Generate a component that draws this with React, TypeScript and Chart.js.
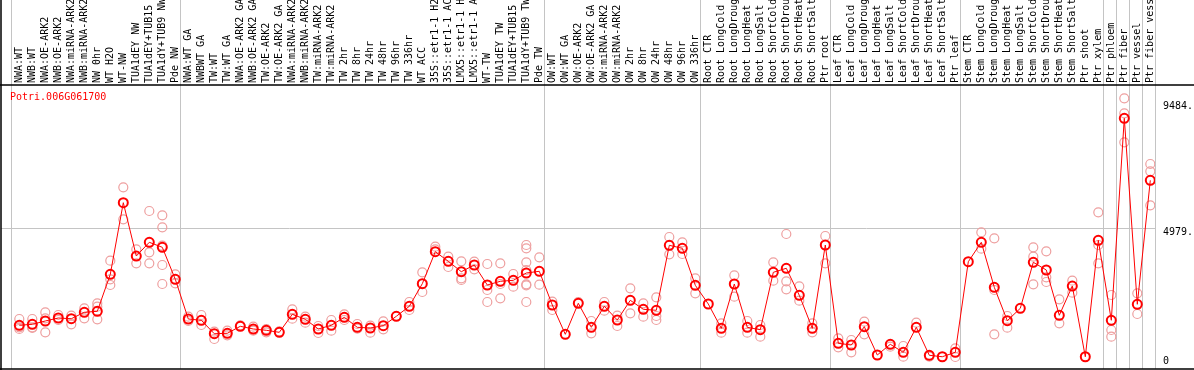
import { useEffect, useRef } from 'react';
import { Chart, registerables } from 'chart.js';

Chart.register(...registerables);

const geneId = 'Potri.006G061700';

const categories = [
  'NWA:WT', 'NWB:WT', 'NWA:OE-ARK2', 'NWB:OE-ARK2', 'NWA:miRNA-ARK2', 'NWB:miRNA-ARK2',
  'NW 0hr', 'WT H2O', 'WT-NW', 'TUA1dEY NW', 'TUA1dEY+TUB15 NW', 'TUA1dY+TUB9 NW', 'Pde NW',
  'NWA:WT GA', 'NWBWT GA', 'TW:WT', 'TW:WT GA', 'NWA:OE-ARK2 GA', 'NWB:OE-ARK2 GA',
  'TW:OE-ARK2', 'TW:OE-ARK2 GA', 'NWA:miRNA-ARK2 GA', 'NWB:miRNA-ARK2 GA', 'TW:miRNA-ARK2',
  'TW:miRNA-ARK2 GA', 'TW 2hr', 'TW 8hr', 'TW 24hr', 'TW 48hr', 'TW 96hr', 'TW 336hr',
  'WT ACC', '35S::etr1-1 H2O', '35S::etr1-1 ACC', 'LMX5::etr1-1 H2O', 'LMX5::etr1-1 ACC',
  'WT-TW', 'TUA1dEY TW', 'TUA1dEY+TUB15 TW', 'TUA1dY+TUB9 TW', 'Pde TW',
  'OW:WT', 'OW:WT GA', 'OW:OE-ARK2', 'OW:OE-ARK2 GA', 'OW:miRNA-ARK2', 'OW:miRNA-ARK2 GA',
  'OW 2hr', 'OW 8hr', 'OW 24hr', 'OW 48hr', 'OW 96hr', 'OW 336hr',
  'Root CTR', 'Root LongCold', 'Root LongDrought', 'Root LongHeat', 'Root LongSalt',
  'Root ShortCold', 'Root ShortDrought', 'Root ShortHeat', 'Root ShortSalt', 'Ptr root',
  'Leaf CTR', 'Leaf LongCold', 'Leaf LongDrought', 'Leaf LongHeat', 'Leaf LongSalt',
  'Leaf ShortCold', 'Leaf ShortDrought', 'Leaf ShortHeat', 'Leaf ShortSalt', 'Ptr leaf',
  'Stem CTR', 'Stem LongCold', 'Stem LongDrought', 'Stem LongHeat', 'Stem LongSalt',
  'Stem ShortCold', 'Stem ShortDrought', 'Stem ShortHeat', 'Stem ShortSalt', 'Ptr shoot',
  'Ptr xylem', 'Ptr phloem', 'Ptr fiber', 'Ptr vessel', 'Ptr fiber vessel',
];

const means = [
  1224, 1262, 1390, 1505, 1478, 1725, 1764, 3192, 5956, 3898, 4427, 4234, 2999,
  1467, 1417, 899, 915, 1185, 1081, 1031, 953, 1648, 1455, 1081, 1224, 1532, 1146, 1119,
  1208, 1571, 1957, 2829, 4064, 3694, 3292, 3551, 2779, 2922, 2960, 3242, 3308,
  2007, 876, 2073, 1146, 1957, 1428, 2188, 1841, 1803, 4311, 4196, 2767,
  2046, 1108, 2818, 1146, 1054, 3269, 3424, 2381, 1108, 4323,
  529, 463, 1170, 77, 490, 181, 1146, 66, 10, 181,
  3678, 4427, 2690, 1401, 1880, 3655, 3358, 1610, 2740, 10, 4504,
  1417, 9213, 2034, 6820,
];

const replicates: number[][] = [
  [1467, 1145, 1081], [1467, 1145, 1119], [1724, 1493, 952], [1621, 1428], [1596, 1261],
  [1879, 1493], [2072, 1943, 1454], [3719, 2998, 2779], [6549, 5314], [4156, 3615],
  [5636, 4040, 3615], [5468, 5005, 4298, 3551, 2818], [3191, 2843],
  [1557, 1390], [1621, 1235], [978, 695], [1016, 836], [1222], [1171, 1016], [1081, 952],
  [991], [1840, 1480], [1557, 1325], [1197, 926], [1428, 1016], [1647, 1428], [1274, 1094],
  [1210, 939], [1377, 1068], [1583], [2123, 1814], [3268, 2509], [4259, 4156], [3873, 3474],
  [3693, 3036, 2972], [3680, 3384], [3590, 2586, 2123], [3615, 2818, 2264], [3204, 2714],
  [4323, 4195, 3654, 3358, 2805, 2766, 2123], [3847, 2792],
  [2136, 1814], [], [2123], [1390, 914], [2123, 1788], [1596, 1197], [2650, 1686],
  [2072, 1557], [2303, 1583, 1428], [4632, 3963], [4426, 3976], [3036, 2457],
  [], [1300, 939], [3152, 2329], [1390, 939], [1235, 785], [3654, 2947], [4748, 2921, 2612],
  [2728, 2175], [1300, 952], [4671, 3615],
  [720, 373], [656, 180], [1364, 875], [], [399], [425, 13], [1325], [13], [], [334, 0],
  [], [4812, 4182], [4580, 2586, 875], [1583, 1132], [], [4233, 3873, 2805],
  [4079, 3075, 2895], [2226, 1300], [2947, 2483], [], [5584, 4323, 3615],
  [2393, 1042, 785], [9985, 9406, 8286], [2457, 1660], [7450, 7167, 5854],
];

// category indices before which a separator line is drawn
const groupBoundaries = [0, 13, 41, 53, 63, 73, 84, 85, 86, 87, 88];

const yTickValues = [0, 4979, 9843];
const yTickLabels = ['0', '4979.', '9484.'];

const MONO = '"DejaVu Sans Mono", "Liberation Mono", monospace';
const SHIFT = 1.8 / 13;
const X_MIN = -0.5 - SHIFT - 10 / 13;
const X_MAX = categories.length - 0.5 - SHIFT;

const zeroPad = (scale: any) => {
  scale.paddingLeft = 0;
  scale.paddingRight = 0;
  scale.paddingTop = 0;
  scale.paddingBottom = 0;
};

const framePlugin = {
  id: 'frame',
  afterDraw(chart: any) {
    const { ctx, chartArea: a, width, height } = chart;
    ctx.save();
    ctx.strokeStyle = '#000';
    ctx.lineWidth = 1.5;
    ctx.beginPath();
    ctx.moveTo(0, a.top);
    ctx.lineTo(width, a.top);
    ctx.moveTo(0, a.bottom);
    ctx.lineTo(width, a.bottom);
    ctx.moveTo(a.left, 0);
    ctx.lineTo(a.left, height);
    ctx.stroke();
    ctx.fillStyle = '#ff0000';
    ctx.font = '10px ' + MONO;
    ctx.textBaseline = 'alphabetic';
    ctx.textAlign = 'left';
    ctx.fillText(geneId, a.left + 9, a.top + 15);
    ctx.restore();
  },
};

export default function App() {
  const ref = useRef<HTMLCanvasElement>(null);

  useEffect(() => {
    document.body.style.margin = '0';
    if (!ref.current) return;
    const meanPoints = means.map((v, i) => ({ x: i, y: v }));
    const repPoints: { x: number; y: number }[] = [];
    replicates.forEach((arr, i) => arr.forEach((v) => repPoints.push({ x: i, y: v })));

    const chart = new Chart(ref.current, {
      type: 'scatter',
      data: {
        datasets: [
          {
            label: 'mean',
            data: meanPoints,
            showLine: true,
            borderColor: '#ff0000',
            backgroundColor: 'rgba(0,0,0,0)',
            borderWidth: 1,
            pointRadius: 4.5,
            pointBorderWidth: 2,
            pointBorderColor: '#ff0000',
            pointBackgroundColor: 'rgba(0,0,0,0)',
            order: 0,
          },
          {
            label: 'replicates',
            data: repPoints,
            showLine: false,
            borderColor: '#ee9f9f',
            backgroundColor: 'rgba(0,0,0,0)',
            pointRadius: 4.5,
            pointBorderWidth: 1.2,
            order: 1,
          },
        ],
      },
      options: {
        animation: false,
        responsive: false,
        devicePixelRatio: 1,
        layout: { autoPadding: false, padding: { left: 1, right: 0, top: 0, bottom: 1 } },
        plugins: {
          legend: { display: false },
          tooltip: { enabled: false },
          title: { display: false },
        },
        scales: {
          x: {
            type: 'linear',
            position: 'top',
            min: X_MIN,
            max: X_MAX,
            afterBuildTicks: (scale: any) => {
              const t = groupBoundaries.map((b) => ({ value: b - 0.5 - SHIFT }));
              categories.forEach((_, i) => t.push({ value: i }));
              t.sort((p, q) => p.value - q.value);
              scale.ticks = t;
            },
            afterFit: (scale: any) => {
              scale.height = 85;
              zeroPad(scale);
            },
            border: { display: false },
            grid: {
              color: (ctx: any) =>
                ctx.tick && !Number.isInteger(ctx.tick.value) ? '#c4c4c4' : 'rgba(0,0,0,0)',
              lineWidth: 1,
              drawTicks: true,
              tickLength: 85,
            },
            ticks: {
              autoSkip: false,
              minRotation: 90,
              maxRotation: 90,
              padding: -83,
              labelOffset: 12,
              color: '#000',
              font: { family: MONO, size: 10 },
              callback: (v: any) => (Number.isInteger(v) ? categories[v] : ''),
            },
          },
          y: {
            type: 'linear',
            position: 'right',
            min: -463,
            max: 10499,
            afterBuildTicks: (scale: any) => {
              scale.ticks = yTickValues.map((v) => ({ value: v }));
            },
            afterFit: (scale: any) => {
              scale.width = 39;
              zeroPad(scale);
            },
            border: { display: false },
            grid: {
              color: (ctx: any) =>
                ctx.tick && ctx.tick.value === 4979 ? '#c4c4c4' : 'rgba(0,0,0,0)',
              drawTicks: false,
            },
            ticks: {
              padding: 8,
              labelOffset: 4.7,
              color: '#000',
              font: { family: MONO, size: 10 },
              callback: (v: any) => yTickLabels[yTickValues.indexOf(v)] ?? '',
            },
          },
        },
      },
      plugins: [framePlugin],
    });
    return () => chart.destroy();
  }, []);

  return (
    <div style={{ width: 1194, height: 370, background: '#fff' }}>
      <canvas ref={ref} width={1194} height={370} style={{ display: 'block' }} />
    </div>
  );
}
